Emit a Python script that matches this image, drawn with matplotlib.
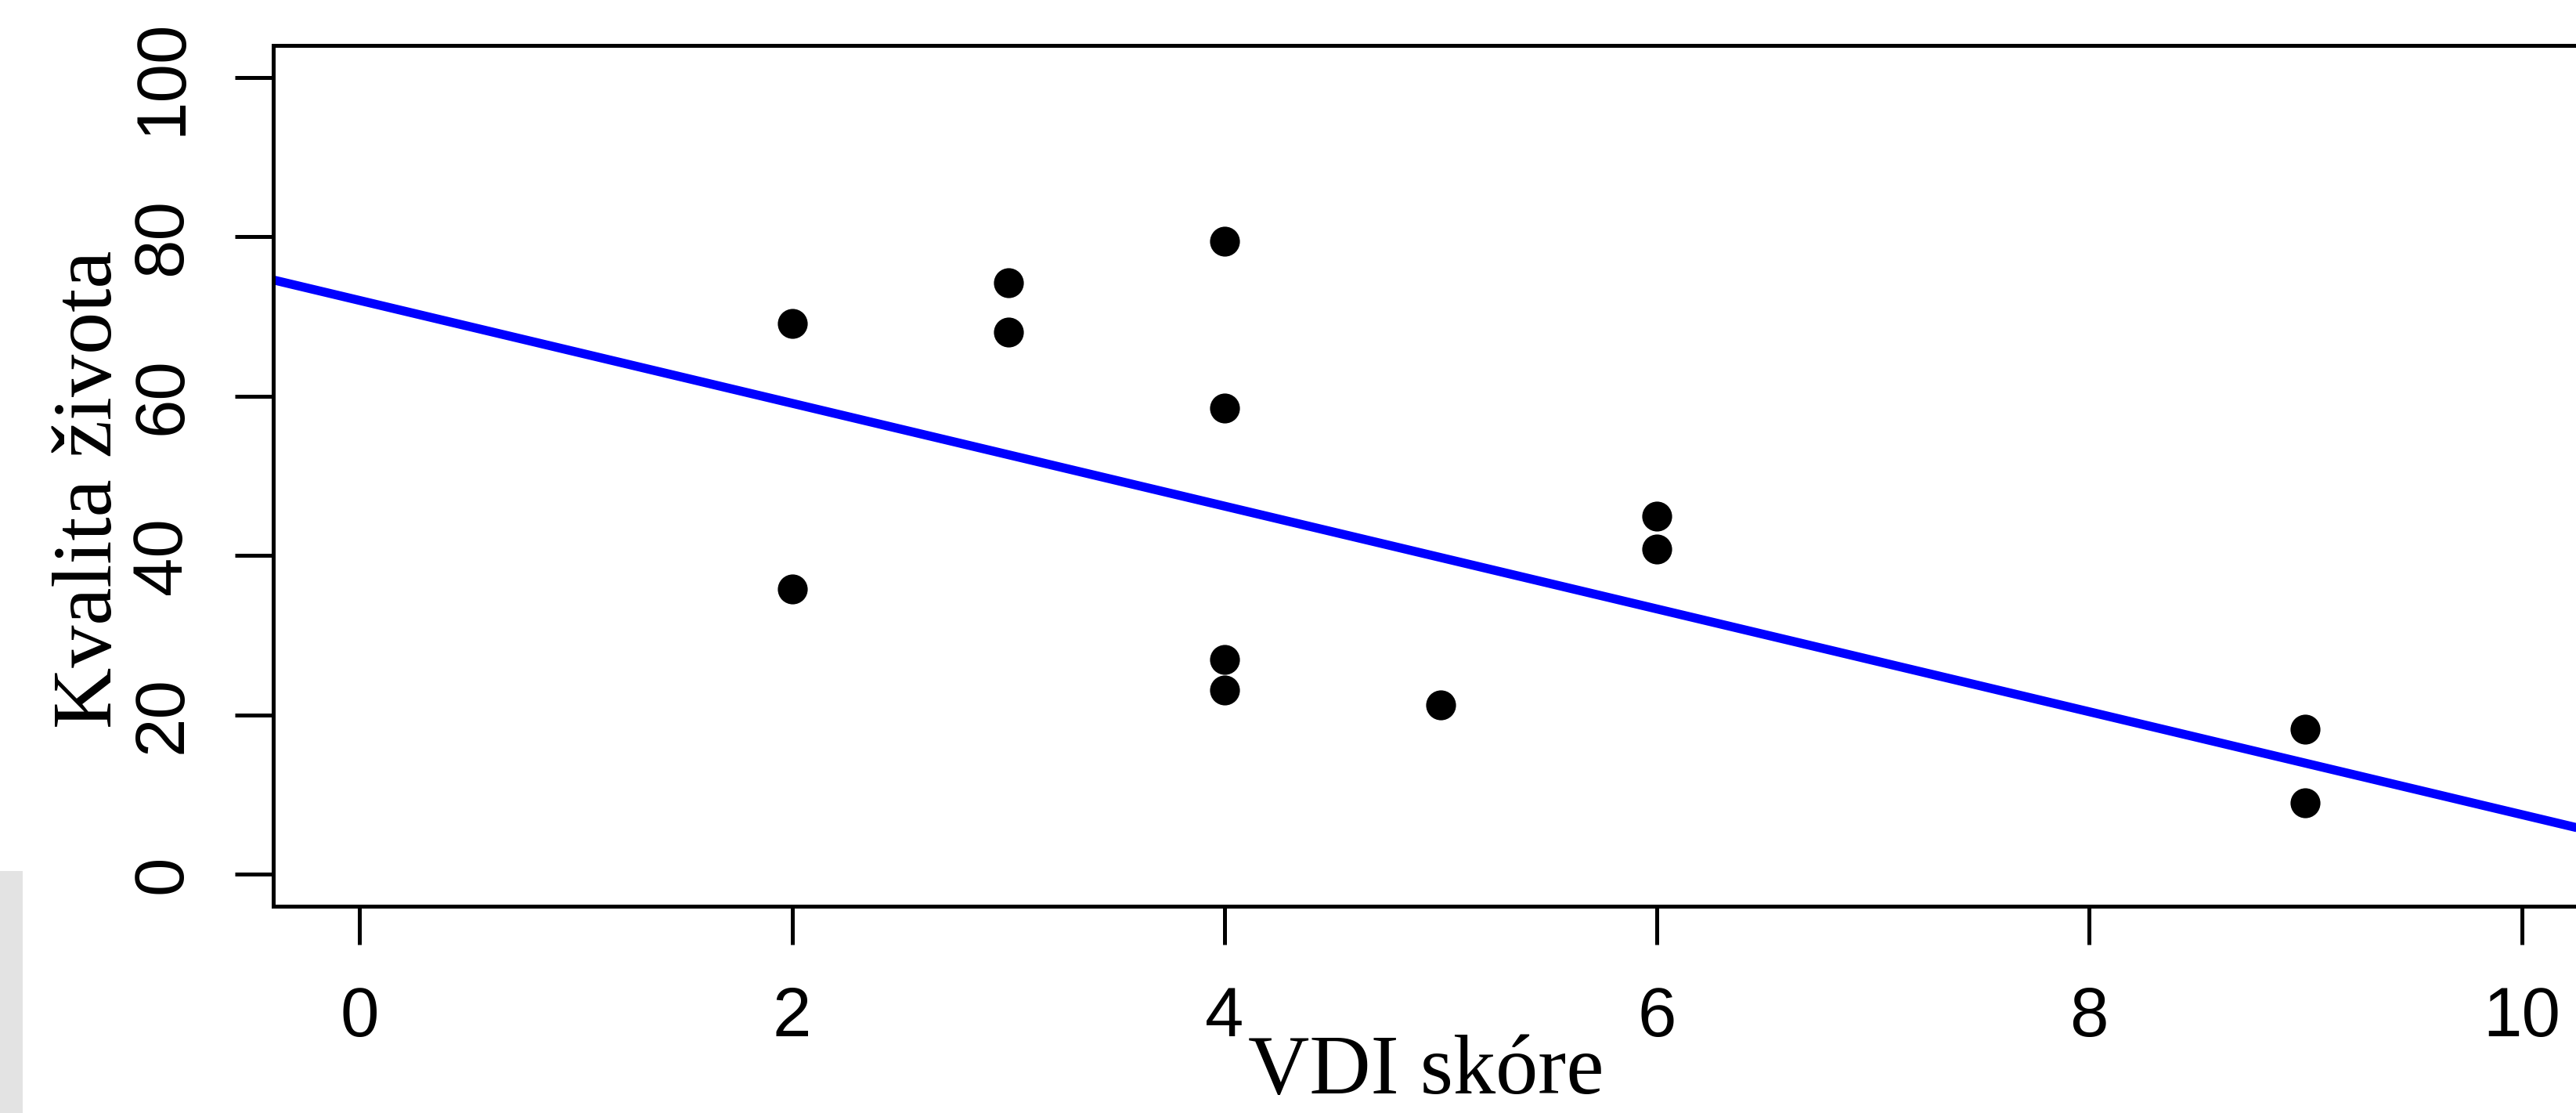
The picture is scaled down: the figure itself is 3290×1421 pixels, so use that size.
import numpy as np
import matplotlib
matplotlib.use("Agg")
import matplotlib.pyplot as plt
from matplotlib.patches import Rectangle

# values
vdi = [2, 2, 3, 3, 4, 4, 4, 4, 5, 6, 6, 9, 9]
kvalita = [69.1, 35.8, 74.2, 68.0, 79.4, 58.5, 27.0, 23.1, 21.3, 44.9, 40.8, 18.2, 9.0]
fit_intercept = 72.0
fit_slope = -6.45
x_ticks = [0, 2, 4, 6, 8, 10]
y_ticks = [0, 20, 40, 60, 80, 100]

W, H, DPI = 3290, 1421, 100
fig = plt.figure(figsize=(W / DPI, H / DPI), dpi=DPI)
fig.patch.set_facecolor("white")

# axes box: left 349px, top 58px, bottom 1157px, right edge cut off by the frame
ax = fig.add_axes([349 / W, 1 - 1157 / H, (3331 - 349) / W, (1157 - 58) / H])
ax.set_xlim(-0.4, 10.4)
ax.set_ylim(-4, 104)

xx = np.array(ax.get_xlim())
ax.plot(xx, fit_intercept + fit_slope * xx, color="#0000ff", lw=8.2, solid_capstyle="butt")
ax.plot(vdi, kvalita, "o", color="black", markersize=27.5, markeredgewidth=0)

for s in ax.spines.values():
    s.set_linewidth(3.6)
    s.set_color("black")

ax.set_xticks(x_ticks)
ax.set_yticks(y_ticks)
ax.tick_params(axis="both", length=35, width=3.6, color="black")
ax.tick_params(axis="x", pad=38)
ax.tick_params(axis="y", pad=36)
for lab in ax.get_xticklabels():
    lab.set_family("Liberation Sans")
    lab.set_fontsize(64)
for lab in ax.get_yticklabels():
    lab.set_family("Liberation Sans")
    lab.set_fontsize(64)
    lab.set_rotation(90)
    lab.set_va("center")

fig.text(142 / W, 1 - 930 / H, "Kvalita života", family="Liberation Serif", fontsize=78,
         rotation=90, rotation_mode="anchor", ha="left", va="baseline")
# kept just inside the bottom edge
fig.text(1821 / W, 1 - 1396 / H, "VDI skóre", family="Liberation Serif", fontsize=78,
         ha="center", va="baseline")

# grey scrap at the bottom-left corner of the scan
fig.patches.append(Rectangle((0, 0), 29 / W, (H - 1112) / H, transform=fig.transFigure,
                             facecolor="#e3e3e3", edgecolor="none"))

fig.savefig("out.png", dpi=DPI)
